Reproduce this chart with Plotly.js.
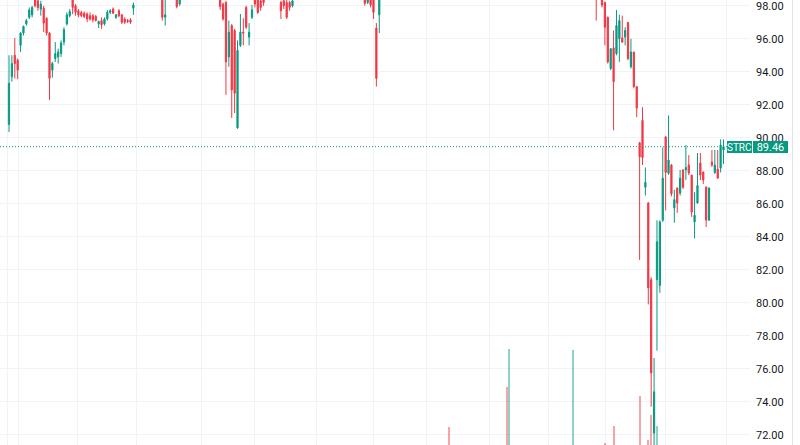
<!DOCTYPE html>
<html>
<head>
<meta charset="utf-8">
<script src="https://cdn.plot.ly/plotly-3.0.1.min.js"></script>
<style>
  html, body { margin: 0; padding: 0; background: #ffffff; }
  #chart { width: 800px; height: 445px; }
</style>
</head>
<body>
<div id="chart"></div>
<script>
const ticker = "STRC";

const open = [
  90.8, 93.7, 95.0, 94.7, 95.6, 96.35, 96.9, 97.3, 97.45, 98.6,
  98.3, 97.8, 97.85, 97.25, 96.35, 94.1, 94.8, 94.9, 95.1, 95.8,
  96.9, 97.4, 98.5, 98.0, 97.7, 97.6, 97.55, 97.5, 97.4, 97.4,
  97.35, 96.9, 97.1, 96.9, 97.2, 97.6, 97.8, 97.3, 97.7, 97.45,
  97.2, 97.1, 97.15, 97.85, 98.5, 98.9, 98.7, 99.2, 99.4, 99.1,
  98.8, 99.1, 98.9, 98.7, 97.3, 98.5, 98.9, 98.6, 98.6, 98.1,
  98.5, 98.9, 99.2, 99.0, 99.4, 99.6, 99.3, 99.1, 99.3, 99.0,
  98.8, 99.1, 98.8, 98.6, 98.1, 98.2, 94.9, 96.8, 96.5, 90.6,
  95.6, 96.4, 97.9, 96.1, 97.3, 98.6, 98.5, 98.3, 98.45, 98.5,
  98.9, 98.6, 99.0, 98.7, 98.2, 98.3, 98.2, 98.2, 98.0, 98.5,
  98.9, 99.3, 99.1, 99.4, 99.7, 99.5, 99.3, 99.6, 99.4, 99.8,
  99.6, 99.3, 99.0, 99.3, 99.1, 99.4, 99.2, 98.9, 99.1, 98.8,
  99.0, 98.7, 98.9, 98.5, 98.2, 98.5, 98.6, 96.65, 97.45, 98.5,
  99.0, 99.3, 99.1, 99.5, 99.7, 99.5, 99.8, 99.6, 99.4, 99.7,
  99.9, 99.7, 99.5, 99.8, 99.6, 99.9, 100.1, 99.9, 99.7, 99.9,
  99.6, 99.3, 99.6, 99.1, 99.4, 99.6, 99.4, 99.7, 99.5, 99.8,
  100.0, 99.8, 99.6, 99.8, 99.6, 99.9, 99.7, 99.5, 99.7, 99.5,
  99.8, 99.6, 99.4, 99.0, 99.7, 100.0, 99.8, 100.1, 99.9, 99.7,
  99.9, 99.7, 100.0, 99.8, 99.6, 99.8, 99.6, 99.9, 99.7, 99.5,
  99.7, 99.4, 99.1, 99.3, 98.9, 98.6, 99.3, 99.5, 99.3, 99.1,
  99.3, 99.0, 98.8, 98.9, 98.7, 98.6, 98.2, 97.3, 94.2, 95.45,
  95.1, 96.0, 96.05, 96.1, 97.0, 94.3, 95.2, 93.1, 89.7, 91.05,
  87.0, 86.05, 81.4, 72.1, 81.4, 81.05, 85.0, 90.05, 87.85, 88.35,
  85.75, 86.95, 86.65, 88.05, 88.05, 88.35, 87.74, 84.9, 86.05, 88.47,
  87.92, 87.01, 85.01, 88.53, 87.9, 88.1, 88.16, 89.26
];

const high = [
  95.0, 95.0, 96.05, 94.8, 96.4, 96.8, 97.2, 97.9, 98.0, 98.9,
  98.5, 98.3, 98.0, 97.3, 96.4, 94.6, 95.8, 95.4, 95.9, 96.7,
  97.6, 97.8, 98.9, 98.1, 97.8, 97.7, 97.65, 97.6, 97.6, 97.5,
  97.45, 97.1, 97.3, 97.3, 97.75, 97.8, 97.9, 97.5, 97.8, 97.5,
  97.3, 97.2, 97.25, 98.2, 99.0, 99.1, 99.3, 99.5, 99.5, 99.2,
  99.2, 99.2, 99.0, 98.9, 98.6, 99.0, 99.0, 99.1, 98.7, 98.6,
  99.0, 99.3, 99.3, 99.5, 99.7, 99.7, 99.4, 99.4, 99.4, 99.1,
  99.2, 99.2, 98.9, 98.7, 98.2, 98.3, 97.1, 96.9, 96.6, 95.9,
  97.5, 97.25, 98.0, 96.95, 98.05, 98.8, 98.7, 98.4, 98.55, 99.0,
  99.0, 99.1, 99.1, 98.8, 98.3, 98.4, 98.4, 98.3, 98.6, 99.0,
  99.4, 99.4, 99.5, 99.8, 99.8, 99.6, 99.7, 99.7, 99.9, 99.9,
  99.7, 99.4, 99.4, 99.4, 99.5, 99.5, 99.3, 99.2, 99.2, 99.1,
  99.1, 99.0, 99.0, 98.6, 98.6, 98.6, 98.7, 96.95, 98.6, 99.1,
  99.4, 99.4, 99.6, 99.8, 99.8, 99.9, 99.9, 99.7, 99.8, 100.0,
  100.0, 99.8, 99.9, 99.9, 100.0, 100.2, 100.2, 100.0, 100.0, 100.0,
  99.7, 99.7, 99.7, 99.5, 99.7, 99.7, 99.8, 99.8, 99.9, 100.1,
  100.1, 99.9, 99.9, 99.9, 100.0, 100.0, 99.8, 99.8, 99.8, 99.9,
  99.9, 99.7, 99.5, 99.9, 100.1, 100.1, 100.2, 100.2, 100.0, 100.0,
  100.0, 100.1, 100.1, 99.9, 99.9, 99.9, 100.0, 100.0, 99.8, 99.8,
  99.8, 99.5, 99.4, 99.4, 99.0, 99.5, 99.6, 99.6, 99.4, 99.4,
  99.4, 99.1, 98.9, 99.1, 98.9, 98.8, 98.25, 97.35, 95.4, 96.5,
  97.75, 97.45, 97.4, 96.7, 97.0, 96.0, 95.2, 93.1, 89.75, 91.85,
  88.2, 86.1, 81.55, 76.65, 85.0, 85.0, 89.4, 90.1, 91.35, 88.4,
  86.85, 87.0, 88.05, 88.1, 89.56, 88.95, 87.75, 86.7, 89.08, 89.08,
  87.95, 87.05, 87.0, 89.26, 89.26, 89.26, 89.9, 89.9
];

const low = [
  90.35, 93.4, 93.6, 93.55, 95.2, 96.2, 96.8, 97.2, 97.3, 97.9,
  97.7, 97.4, 96.4, 96.2, 92.3, 93.65, 94.6, 94.5, 94.9, 95.6,
  96.8, 97.3, 97.5, 97.4, 97.3, 97.3, 97.25, 97.0, 97.1, 97.0,
  97.05, 96.65, 96.6, 96.8, 97.1, 97.5, 97.5, 97.2, 97.3, 96.9,
  96.9, 96.95, 96.9, 97.45, 98.4, 98.6, 98.6, 99.0, 99.0, 98.7,
  98.7, 98.6, 98.5, 97.1, 96.8, 98.45, 98.5, 98.5, 97.85, 98.0,
  98.4, 98.8, 98.9, 98.9, 99.3, 99.2, 99.0, 99.0, 98.9, 98.7,
  98.7, 98.6, 98.5, 97.75, 97.1, 92.6, 94.3, 91.2, 91.5, 90.55,
  95.5, 95.6, 96.6, 95.6, 97.2, 97.9, 97.5, 97.7, 98.0, 98.4,
  98.5, 98.5, 98.5, 98.45, 97.2, 97.8, 97.2, 97.7, 97.9, 98.45,
  98.8, 99.0, 99.0, 99.3, 99.4, 99.2, 99.2, 99.3, 99.3, 99.5,
  99.2, 98.9, 98.9, 99.0, 99.0, 99.1, 98.8, 98.8, 98.7, 98.7,
  98.6, 98.6, 98.5, 98.0, 98.1, 97.9, 97.2, 93.1, 96.35, 98.45,
  98.9, 99.0, 99.0, 99.4, 99.4, 99.4, 99.5, 99.3, 99.3, 99.6,
  99.6, 99.4, 99.4, 99.5, 99.5, 99.8, 99.8, 99.6, 99.6, 99.5,
  99.2, 99.2, 98.9, 99.0, 99.3, 99.3, 99.3, 99.4, 99.4, 99.7,
  99.7, 99.5, 99.5, 99.5, 99.5, 99.6, 99.4, 99.4, 99.4, 99.4,
  99.5, 99.3, 98.8, 98.9, 99.6, 99.7, 99.7, 99.8, 99.6, 99.6,
  99.6, 99.6, 99.7, 99.5, 99.5, 99.5, 99.5, 99.6, 99.4, 99.4,
  99.3, 99.0, 99.0, 98.8, 98.5, 98.5, 99.2, 99.2, 99.0, 99.0,
  98.9, 98.7, 98.5, 97.1, 98.4, 97.9, 95.6, 94.5, 94.1, 90.45,
  95.0, 94.6, 95.75, 95.6, 94.7, 94.2, 93.0, 91.25, 82.6, 88.35,
  86.5, 79.9, 73.7, 71.2, 77.1, 80.6, 84.9, 85.6, 87.75, 86.45,
  84.85, 85.45, 86.5, 86.9, 87.45, 87.74, 85.2, 83.9, 86.0, 87.44,
  87.2, 84.59, 84.95, 88.23, 87.8, 87.5, 87.9, 88.4
];

const close = [
  93.3, 94.5, 94.5, 94.1, 96.35, 96.75, 97.1, 97.75, 97.9, 98.0,
  97.9, 98.1, 96.95, 96.35, 93.6, 94.5, 95.1, 95.2, 95.75, 96.55,
  97.45, 97.65, 97.9, 97.6, 97.45, 97.4, 97.35, 97.2, 97.2, 97.15,
  97.1, 97.05, 96.85, 97.2, 97.6, 97.7, 97.55, 97.45, 97.4, 97.0,
  97.0, 97.05, 97.0, 98.05, 98.9, 98.7, 99.2, 99.4, 99.1, 98.8,
  99.1, 98.7, 98.6, 97.3, 97.45, 98.9, 98.6, 99.0, 97.95, 98.45,
  98.9, 99.2, 99.0, 99.4, 99.6, 99.3, 99.1, 99.3, 99.0, 98.8,
  99.1, 98.7, 98.6, 97.95, 97.2, 94.6, 96.4, 92.9, 92.7, 95.3,
  96.4, 96.35, 96.7, 96.4, 97.75, 98.1, 97.6, 97.9, 98.2, 98.9,
  98.6, 99.0, 98.6, 98.5, 97.7, 98.0, 97.3, 97.9, 98.3, 98.9,
  99.3, 99.1, 99.4, 99.7, 99.5, 99.3, 99.6, 99.4, 99.8, 99.6,
  99.3, 99.0, 99.3, 99.1, 99.4, 99.2, 98.9, 99.1, 98.8, 99.0,
  98.7, 98.9, 98.6, 98.15, 98.4, 98.05, 97.6, 93.6, 98.5, 99.0,
  99.3, 99.1, 99.5, 99.7, 99.5, 99.8, 99.6, 99.4, 99.7, 99.9,
  99.7, 99.5, 99.8, 99.6, 99.9, 100.1, 99.9, 99.7, 99.9, 99.6,
  99.3, 99.6, 99.1, 99.4, 99.6, 99.4, 99.7, 99.5, 99.8, 100.0,
  99.8, 99.6, 99.8, 99.6, 99.9, 99.7, 99.5, 99.7, 99.5, 99.8,
  99.6, 99.4, 99.0, 99.7, 100.0, 99.8, 100.1, 99.9, 99.7, 99.9,
  99.7, 100.0, 99.8, 99.6, 99.8, 99.6, 99.9, 99.7, 99.5, 99.7,
  99.4, 99.1, 99.3, 98.9, 98.6, 99.3, 99.5, 99.3, 99.1, 99.3,
  99.0, 98.8, 98.6, 98.5, 98.5, 98.05, 96.7, 94.6, 95.4, 93.4,
  96.8, 97.1, 95.8, 96.5, 94.8, 95.2, 93.1, 91.8, 88.85, 88.8,
  87.3, 80.9, 75.75, 74.6, 83.7, 84.9, 87.55, 87.9, 88.65, 86.6,
  86.25, 86.05, 87.55, 87.0, 88.2, 87.86, 85.5, 85.3, 87.1, 87.74,
  87.44, 85.01, 86.95, 88.35, 88.35, 87.56, 89.56, 89.46
];

// volume, thousands of shares
const volumeK = [
  420, 260, 310, 180, 220, 150, 120, 170, 140, 190,
  110, 130, 210, 160, 380, 240, 200, 130, 150, 170,
  160, 90, 140, 100, 80, 70, 60, 90, 70, 80,
  60, 110, 100, 80, 120, 70, 60, 50, 70, 90,
  60, 50, 60, 130, 150, 90, 110, 100, 80, 90,
  70, 80, 90, 260, 230, 120, 80, 90, 140, 100,
  110, 90, 70, 80, 90, 70, 60, 70, 80, 90,
  70, 100, 120, 180, 210, 480, 350, 420, 390, 450,
  260, 180, 200, 160, 150, 120, 130, 100, 80, 90,
  70, 80, 90, 100, 170, 110, 160, 100, 120, 90,
  100, 70, 80, 110, 70, 60, 80, 60, 90, 70,
  80, 100, 70, 60, 70, 60, 90, 70, 80, 70,
  90, 70, 100, 150, 110, 140, 200, 470, 380, 200,
  150, 100, 120, 110, 80, 90, 70, 80, 90, 100,
  80, 70, 90, 60, 80, 120, 90, 70, 80, 100,
  150, 130, 690, 180, 110, 80, 90, 70, 80, 100,
  90, 70, 60, 70, 80, 60, 70, 60, 80, 90,
  120, 200, 890, 1080, 260, 150, 120, 90, 80, 70,
  80, 90, 70, 80, 60, 70, 90, 80, 100, 90,
  120, 160, 130, 200, 280, 1075, 220, 140, 120, 100,
  130, 160, 190, 300, 150, 250, 610, 560, 420, 695,
  480, 400, 300, 250, 380, 330, 450, 520, 845, 560,
  480, 625, 750, 590, 695, 540, 520, 480, 430, 380,
  350, 300, 280, 260, 290, 220, 310, 330, 300, 240,
  180, 320, 290, 220, 200, 210, 260, 180
];

// vertical grid lines (time-scale marks), in bar-index units
const timeGrid = [-0.6, 3.2, 23.6, 44.2, 66.5, 84.9, 106.2, 126.1, 144.4, 166.0, 186.4, 206.3, 226.8, 248.1];

const N = open.length;
const x = open.map((_, i) => i);
const UP = '#089981', DOWN = '#F23645';

// layout geometry (pixels)
const W = 800, H = 445, plotW = 750;
const firstPx = 9, lastPx = 723.5;
const step = (lastPx - firstPx) / (N - 1);
const xRange = [-firstPx / step, (plotW - firstPx) / step];

const volColors = close.map((c, i) => c >= open[i] ? 'rgba(8,153,129,0.45)' : 'rgba(242,54,69,0.45)');
const lastPrice = close[N - 1];

const volTrace = {
  type: 'bar', x: x, y: volumeK, xaxis: 'x', yaxis: 'y',
  marker: { color: volColors, line: { width: 0 } },
  width: 0.7, hoverinfo: 'skip'
};

const candleTrace = {
  type: 'candlestick', x: x, open: open, high: high, low: low, close: close,
  xaxis: 'x', yaxis: 'y2',
  increasing: { line: { color: UP, width: 1 }, fillcolor: UP },
  decreasing: { line: { color: DOWN, width: 1 }, fillcolor: DOWN },
  whiskerwidth: 0, hoverinfo: 'skip'
};

const font = 'Roboto, "Liberation Sans", Arial, sans-serif';

const layout = {
  width: W, height: H,
  margin: { l: 0, r: W - plotW, t: 0, b: 0, pad: 0 },
  paper_bgcolor: '#ffffff', plot_bgcolor: '#ffffff',
  showlegend: false,
  boxgap: 0.4,
  bargap: 0,
  font: { family: font, size: 11, color: '#131722' },
  xaxis: {
    range: xRange, tickmode: 'array', tickvals: timeGrid,
    showticklabels: false, ticks: '', showgrid: true, gridcolor: '#f0f3fa', gridwidth: 1,
    zeroline: false, showline: false, rangeslider: { visible: false }, fixedrange: true
  },
  yaxis: { range: [600, 600 + H * 5], visible: false, showgrid: false, zeroline: false, fixedrange: true },
  yaxis2: {
    overlaying: 'y', side: 'right', anchor: 'x',
    range: [71.38, 98.35], tick0: 0, dtick: 2, tickformat: '.2f',
    showgrid: true, gridcolor: '#f0f3fa', gridwidth: 1, zeroline: false, showline: false,
    ticks: '', ticklabelstandoff: 5, ticklabeloverflow: 'allow',
    tickfont: { family: font, size: 11, color: '#131722' }, fixedrange: true
  },
  shapes: [
    { type: 'line', xref: 'paper', yref: 'y2', x0: 0, x1: 727 / plotW, y0: lastPrice, y1: lastPrice,
      line: { color: UP, width: 1, dash: '1px,2px' } },
    { type: 'line', xref: 'paper', yref: 'paper', x0: 792.5 / plotW, x1: 792.5 / plotW, y0: 0, y1: 1,
      line: { color: '#e0e3eb', width: 1 } }
  ],
  annotations: [
    { xref: 'paper', yref: 'y2', x: 727 / plotW, y: lastPrice, xanchor: 'left', yanchor: 'middle',
      text: ticker, showarrow: false, bgcolor: UP, borderpad: 0, borderwidth: 0, width: 25, height: 12,
      font: { family: font, size: 10, color: '#ffffff' } },
    { xref: 'paper', yref: 'y2', x: 753 / plotW, y: lastPrice, xanchor: 'left', yanchor: 'middle',
      text: lastPrice.toFixed(2), showarrow: false, bgcolor: UP, borderpad: 0, borderwidth: 0, width: 35, height: 12,
      font: { family: font, size: 11, color: '#ffffff' } }
  ]
};

Plotly.newPlot('chart', [volTrace, candleTrace], layout, { staticPlot: true, displayModeBar: false });
</script>
</body>
</html>
